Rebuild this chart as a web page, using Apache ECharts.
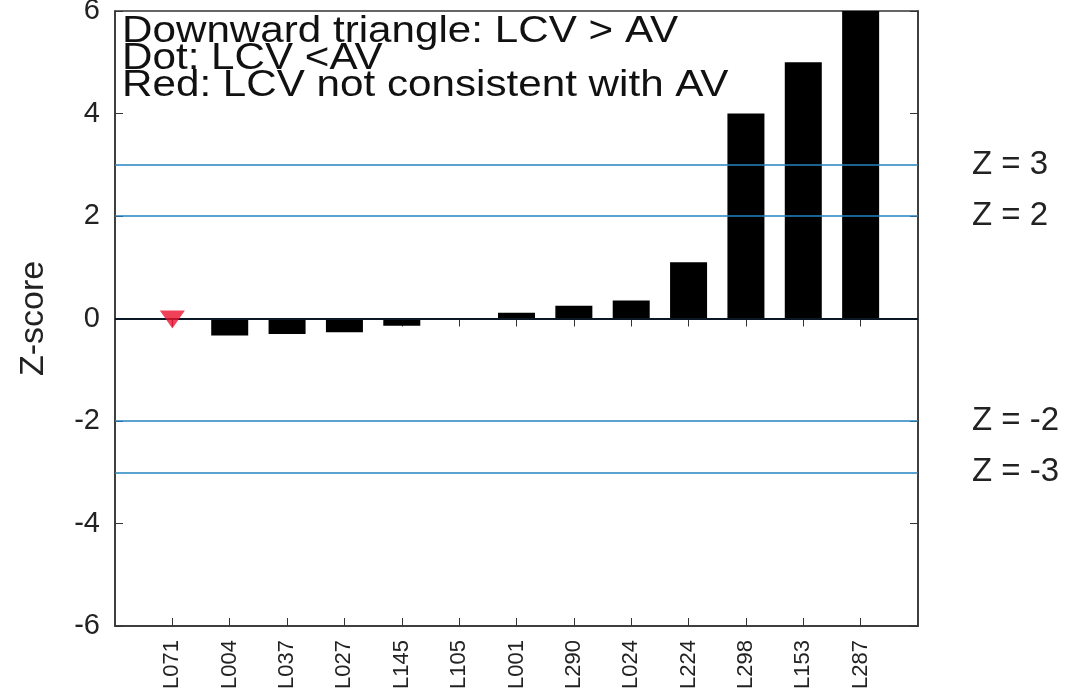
<!DOCTYPE html>
<html><head><meta charset="utf-8">
<script src="https://cdn.jsdelivr.net/npm/echarts@6/dist/echarts.min.js"></script>
<style>html,body{margin:0;padding:0;background:#fff;overflow:hidden}#c{width:1067px;height:694px}</style>
</head><body><div id="c"></div>
<script>
const categories = ['L071','L004','L037','L027','L145','L105','L001','L290','L024','L224','L298','L153','L287'];
const zScores = [null, -0.33, -0.30, -0.27, -0.14, null, 0.11, 0.25, 0.35, 1.10, 4.0, 5.0, 6.0];
const triangleMarks = [['L071', 0]];
const limitLines = [3, 2, -2, -3];
const yTicks = [-6, -4, -2, 0, 2, 4, 6];
const notes = ['Downward triangle: LCV > AV', 'Dot: LCV <AV', 'Red: LCV not consistent with AV'];

const axisCats = [''].concat(categories, ['']);
const barData = [null].concat(zScores, [null]);
const font = 'Liberation Sans, Arial, sans-serif';
const tickInterval = (i) => i > 0 && i < axisCats.length - 1;
const chart = echarts.init(document.getElementById('c'));
chart.setOption({
  animation: false,
  backgroundColor: '#fff',
  grid: {left: 115, right: 149, top: 11, bottom: 68, show: true, borderColor: '#333', borderWidth: 1.5,
    containLabel: false, outerBoundsMode: 'none'},
  xAxis: [{
    type: 'category', data: axisCats, boundaryGap: false,
    axisLine: {show: true, onZero: false, lineStyle: {color: '#333', width: 1.5}},
    axisTick: {show: true, inside: true, length: 8, lineStyle: {color: '#333'}, interval: tickInterval},
    axisLabel: {rotate: 90, fontSize: 22, fontFamily: font, color: '#222', margin: 14, interval: 0},
    splitLine: {show: false}
  }, {
    type: 'category', data: axisCats, boundaryGap: false, position: 'top',
    axisLine: {show: true, lineStyle: {color: '#333', width: 1.5}},
    axisTick: {show: true, inside: true, length: 8, lineStyle: {color: '#333'}, interval: tickInterval},
    axisLabel: {show: false}
  }],
  yAxis: [{
    type: 'value', min: -6, max: 6, interval: 2,
    name: 'Z-score', nameLocation: 'middle', nameGap: 64,
    nameTextStyle: {fontSize: 34, fontFamily: font, color: '#222'},
    axisLine: {show: true, lineStyle: {color: '#333', width: 1.5}},
    axisTick: {show: true, inside: true, length: 8, lineStyle: {color: '#333'}},
    axisLabel: {fontSize: 29, fontFamily: font, color: '#222', margin: 15,
      formatter: (v) => yTicks.includes(v) ? String(v) : ''},
    splitLine: {show: false}
  }, {
    type: 'value', min: -6, max: 6, interval: 2, position: 'right',
    axisLine: {show: true, lineStyle: {color: '#333', width: 1.5}},
    axisTick: {show: true, inside: true, length: 8, lineStyle: {color: '#333'}},
    axisLabel: {show: false}, splitLine: {show: false}
  }],
  series: [{
    type: 'bar', data: barData, barWidth: 37, itemStyle: {color: '#000'},
    markLine: {
      silent: true, symbol: 'none',
      data: limitLines.map(v => ({yAxis: v, label: {formatter: 'Z = ' + v}}))
        .concat([{yAxis: 0, lineStyle: {color: '#0a1826', width: 2}, label: {show: false}}]),
      lineStyle: {color: '#2385c2', width: 1.6, type: 'solid'},
      label: {position: 'end', distance: 54, fontSize: 33, fontFamily: font, color: '#222'}
    }
  }, {
    type: 'scatter', data: triangleMarks.map(d => [categories.indexOf(d[0]) + 1, d[1]]),
    symbol: 'triangle', symbolRotate: 180, symbolSize: [25, 18], symbolOffset: [0, 1],
    itemStyle: {color: '#ec1230'}, z: 5
  }],
  graphic: [{
    type: 'text', x: 122, y: 18, scaleX: 1.14,
    style: {text: notes.join('\n'), fontSize: 37, lineHeight: 27, fontFamily: font, fill: '#111'}
  }]
});
</script></body></html>
